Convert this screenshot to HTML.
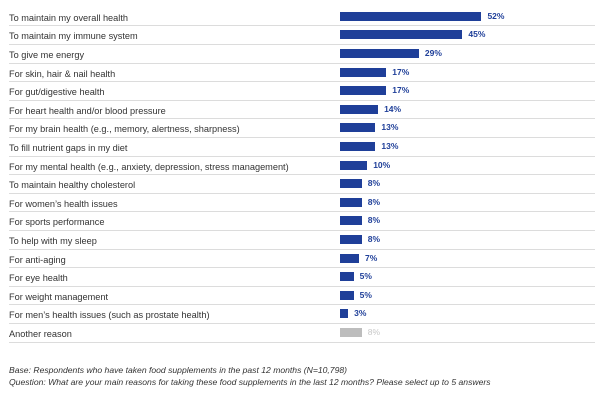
<!DOCTYPE html>
<html><head><style>
body{margin:0;width:600px;height:401px;background:#fff;font-family:"Liberation Sans",sans-serif;position:relative;overflow:hidden}
.r{position:absolute;left:9px;width:586px;height:18.6px;border-bottom:1px solid #dcdcdc;box-sizing:border-box}
.l{position:absolute;left:0;top:5px;font-size:9.2px;color:#333;white-space:nowrap}
.b{position:absolute;left:331px;top:4px;height:9px;background:#1f3f99}
.v{position:absolute;top:3px;font-size:8.5px;font-weight:bold;color:#1f3f99}
.f{position:absolute;left:9px;font-size:8.6px;font-style:italic;color:#333;white-space:nowrap}
</style></head><body>
<div id="c"></div>
<div class="f" style="top:365px">Base: Respondents who have taken food supplements in the past 12 months (N=10,798)</div>
<div class="f" style="top:377px">Question: What are your main reasons for taking these food supplements in the last 12 months? Please select up to 5 answers</div>
<script>
var d=[["To maintain my overall health",52],["To maintain my immune system",45],["To give me energy",29],["For skin, hair &amp; nail health",17],["For gut/digestive health",17],["For heart health and/or blood pressure",14],["For my brain health (e.g., memory, alertness, sharpness)",13],["To fill nutrient gaps in my diet",13],["For my mental health (e.g., anxiety, depression, stress management)",10],["To maintain healthy cholesterol",8],["For women\u2019s health issues",8],["For sports performance",8],["To help with my sleep",8],["For anti-aging",7],["For eye health",5],["For weight management",5],["For men\u2019s health issues (such as prostate health)",3],["Another reason",8]];
var h="";d.forEach(function(x,i){var w=x[1]*2.72,g=i==17;
h+='<div class="r" style="top:'+(7.8+i*18.6)+'px"><div class="l">'+x[0]+'</div><div class="b" style="width:'+w+'px;'+(g?'background:#bdbdbd':'')+'"></div><div class="v" style="left:'+(331+w+6)+'px;'+(g?'color:#c8c8c8;font-weight:normal':'')+'">'+x[1]+'%</div></div>';});
document.getElementById("c").innerHTML=h;
</script>
</body></html>
